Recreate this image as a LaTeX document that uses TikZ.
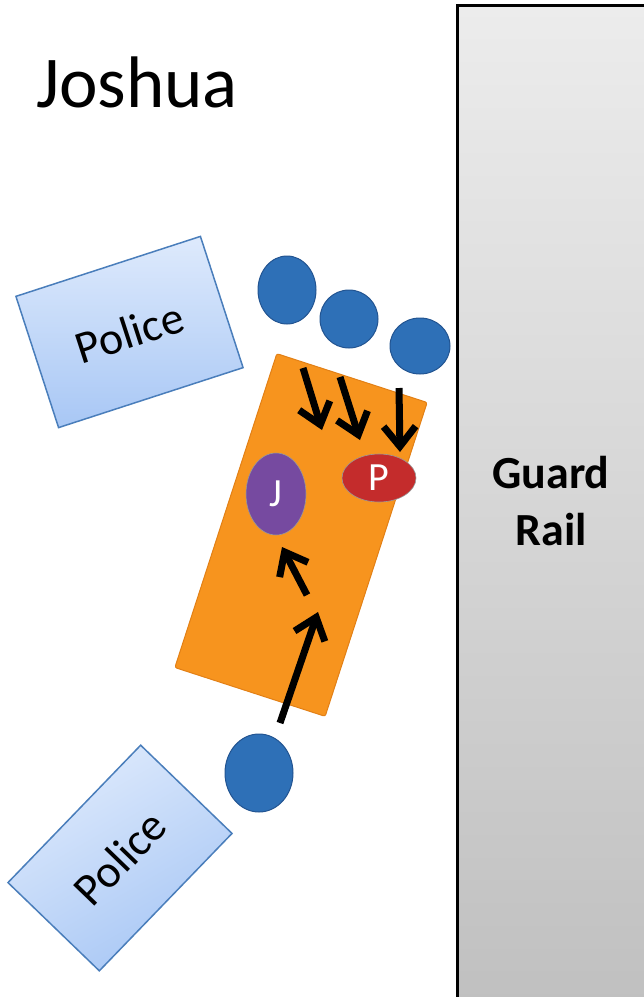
\documentclass[tikz,border=0pt]{standalone}
\usepackage{fontspec}
\setmainfont{Carlito}
\usetikzlibrary{shapes.geometric,arrows.meta}
\definecolor{policetop}{RGB}{222,234,252}
\definecolor{policebottom}{RGB}{168,199,245}
\definecolor{policeline}{RGB}{74,126,187}
\definecolor{officerblue}{RGB}{46,112,183}
\definecolor{officerline}{RGB}{34,84,145}
\definecolor{carorange}{RGB}{247,148,30}
\definecolor{carline}{RGB}{226,128,22}
\definecolor{joshuapurple}{RGB}{118,74,160}
\definecolor{personred}{RGB}{196,44,44}
\definecolor{railtop}{RGB}{236,236,236}
\definecolor{railbottom}{RGB}{192,192,192}
\begin{document}
\begin{tikzpicture}[x=1pt, y=-1pt, >={Straight Barb[length=20pt,width=32pt]},
  police/.style={draw=policeline, line width=1.5pt, top color=policetop, bottom color=policebottom, inner sep=0pt, outer sep=0pt, font=\fontsize{46}{54}\selectfont},
  officer/.style={ellipse, draw=officerline, line width=1pt, fill=officerblue, inner sep=0pt},
  person/.style={ellipse, draw=black!40, line width=0.6pt, inner sep=0pt, text=white, font=\fontsize{40}{46}\selectfont},
  push/.style={line width=7pt}]
\useasboundingbox (0,0) rectangle (644,997);
\node[draw, line width=3pt, top color=railtop, bottom color=railbottom, minimum width=200pt, minimum height=1000pt, inner sep=0pt] (guardrail) at (557,505) {};
\node[font=\fontsize{46}{57}\selectfont\bfseries, align=center] (railtext) at (551,501) {Guard\\Rail};
\node[font=\fontsize{73}{86}\selectfont] (title) at (137,82) {Joshua};
\node[police, minimum width=194pt, minimum height=138pt, rotate=18] (policeA) at (129.5,332) {Police};
\node[police, minimum width=191pt, minimum height=127pt, rotate=46, shading angle=30] (policeB) at (120,858) {Police};
\node[draw=carline, line width=1pt, fill=carorange, minimum width=158pt, minimum height=330pt, inner sep=0pt, rounded corners=2pt, rotate=-18] (car) at (301,535) {};
\node[officer, minimum width=58pt, minimum height=68pt] (officer1) at (287,290) {};
\node[officer, minimum width=58pt, minimum height=58pt] (officer2) at (349,319) {};
\node[officer, minimum width=60pt, minimum height=56pt] (officer3) at (420,346) {};
\node[officer, minimum width=68pt, minimum height=78pt] (officer4) at (259,773) {};
\node[person, fill=joshuapurple, minimum width=60pt, minimum height=82pt] (j) at (276,494) {J};
\node[person, fill=personred, minimum width=74pt, minimum height=48pt] (p) at (379,478) {P};
\coordinate (push1s) at (303,368);
\coordinate (push1e) at (322,430);
\coordinate (push2s) at (340,377);
\coordinate (push2e) at (360,440);
\coordinate (push3s) at (399,388);
\coordinate (push3e) at (400,452);
\coordinate (push4s) at (307,595);
\coordinate (push4e) at (282,547);
\coordinate (push5s) at (280,723);
\coordinate (push5e) at (318,612);
\draw[push, ->] (push1s) -- (push1e);
\draw[push, ->] (push2s) -- (push2e);
\draw[push, ->] (push3s) -- (push3e);
\draw[push, ->] (push4s) -- (push4e);
\draw[push, ->] (push5s) -- (push5e);
\end{tikzpicture}
\end{document}
